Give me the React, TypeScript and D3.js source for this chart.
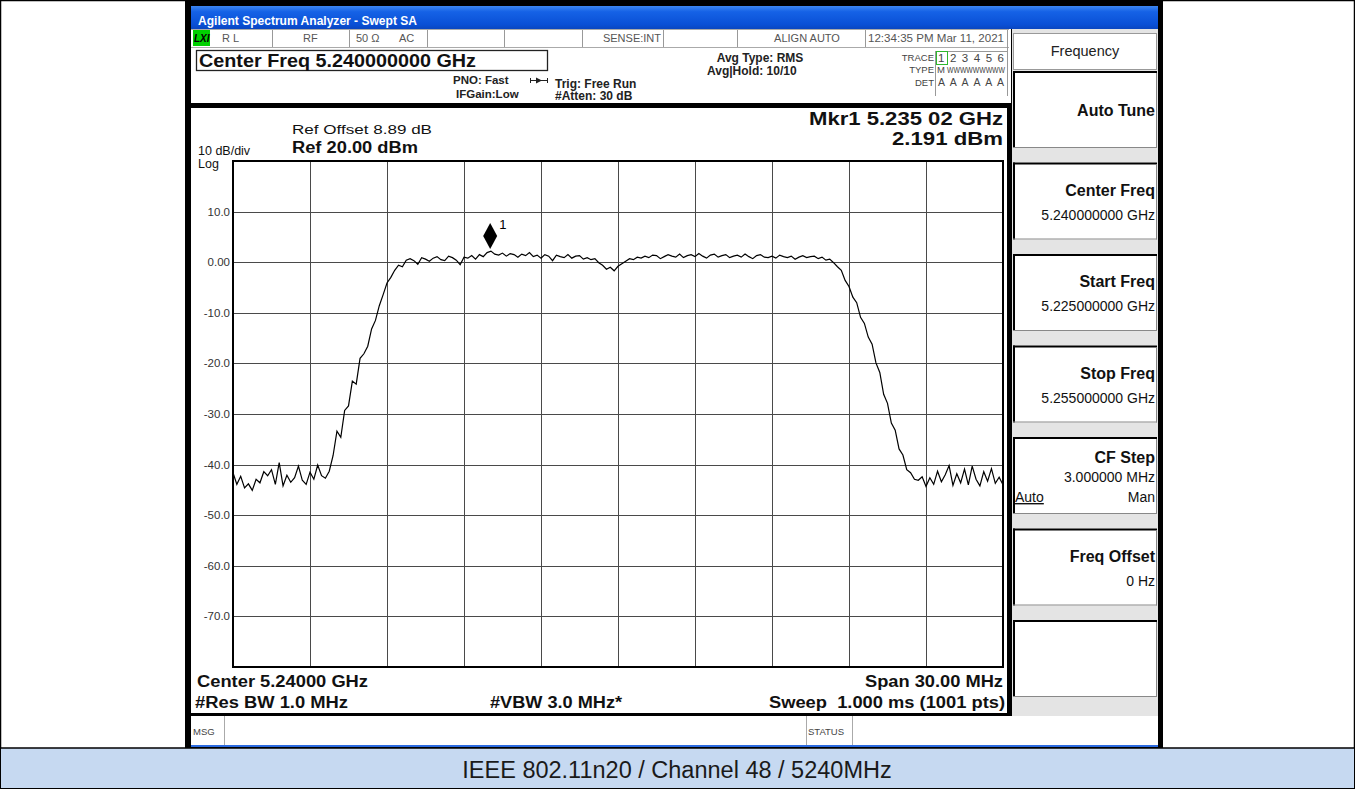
import React from 'react';
import * as d3 from 'd3';

const START_MHZ = 5225;
const STOP_MHZ = 5255;
const REF_DBM = 20;
const BOTTOM_DBM = -80;
const X_DIVS = 10;
const Y_TICKS = [10, 0, -10, -20, -30, -40, -50, -60, -70];
const Y_TICK_LABELS = ['10.0', '0.00', '-10.0', '-20.0', '-30.0', '-40.0', '-50.0', '-60.0', '-70.0'];

// trace values (dBm), evenly spaced across the span
const TRACE_DBM = [
  -41.6, -43.9, -42.3, -44.6, -43.8, -45.1, -42.9, -43.6, -41.4, -42.2,
  -41.0, -43.9, -39.6, -44.2, -42.1, -43.5, -42.6, -40.3, -43.1, -43.9,
  -41.5, -42.9, -40.1, -42.2, -42.7, -41.3,
  -38.2, -33.4, -34.6, -29.3, -28.4, -23.5, -24.1, -19.0, -18.1, -16.6,
  -13.2, -11.5, -8.6, -6.4, -4.1, -3.0, -1.6, -0.6, -0.9,
  0.4, 0.7, 0.3, -0.4, 0.9, 0.6, 0.2, 0.8, 1.1, 0.5,
  0.3, 1.2, 0.9, 0.4, -0.5, 1.0, 0.8, 1.3, 0.6, 1.5,
  1.1, 1.9, 2.19, 1.6, 1.4, 1.8, 1.2, 1.7, 1.5, 1.0,
  1.6, 1.3, 1.9, 1.1, 1.4, 0.8, 1.5, 1.2, 0.3, 1.4,
  1.1, 0.9, 1.5, 0.8, 1.2, 1.3, 0.6, 0.9, 0.5, 0.7,
  -0.1, -0.6, -1.4, -1.0, -1.7, -0.8, -0.3, 0.2, 0.7, 0.5,
  1.0, 0.8, 1.2, 0.9, 1.4, 1.3, 0.7, 1.1, 1.5, 1.2,
  1.0, 1.6, 0.9, 1.3, 1.5, 1.1, 1.7, 1.2, 0.8, 1.4,
  1.6, 1.0, 1.3, 1.5, 0.9, 1.2, 1.4, 1.0, 1.6, 1.1,
  0.7, 1.3, 1.5, 1.0, 0.9, 1.2, 0.8, 1.4, 1.1, 0.9,
  1.2, 0.6, 1.0, 1.3, 0.9, 1.1, 1.2, 0.7, 1.0, 0.4,
  0.6, -0.1,
  -0.9, -1.6, -3.6, -4.8, -6.9, -8.0, -10.9, -12.1, -14.8, -16.2,
  -19.9, -21.8, -26.1, -27.9, -31.8, -33.2, -36.9, -38.1, -41.0, -41.6,
  -42.9,
  -43.1, -42.4, -44.3, -42.6, -43.9, -41.3, -43.4, -42.0, -40.2, -44.1,
  -41.8, -43.6, -40.9, -44.0, -40.3, -42.9, -44.2, -41.4, -43.3, -40.8,
  -43.7, -42.5, -44.0,
];

const MARKER_MHZ = 5235.02;
const MARKER_DBM = 2.191;

const STATUS_DIVIDERS = [272, 349, 427, 504, 582, 663, 737, 865];

const SOFTKEYS = [
  { title: 'Auto Tune', lines: [] as string[] },
  { title: 'Center Freq', lines: ['5.240000000 GHz'] },
  { title: 'Start Freq', lines: ['5.225000000 GHz'] },
  { title: 'Stop Freq', lines: ['5.255000000 GHz'] },
  { title: 'CF Step', lines: ['3.000000 MHz'], autoMan: true },
  { title: 'Freq Offset', lines: ['0 Hz'] },
  { title: '', lines: [] as string[] },
];

const FONT = '"Liberation Sans", Arial, Helvetica, sans-serif';

export default function App() {
  const W = 1355;
  const H = 789;
  const plot = { l: 233, r: 1003, t: 161, b: 667 };
  const x = d3.scaleLinear().domain([START_MHZ, STOP_MHZ]).range([plot.l, plot.r]);
  const y = d3.scaleLinear().domain([BOTTOM_DBM, REF_DBM]).range([plot.b, plot.t]);
  const n = TRACE_DBM.length;
  const pts: [number, number][] = TRACE_DBM.map((v, i) => [
    START_MHZ + (i * (STOP_MHZ - START_MHZ)) / (n - 1),
    v,
  ]);
  const line = d3
    .line<[number, number]>()
    .x((d) => x(d[0]))
    .y((d) => y(d[1]));
  const xGrid = d3.range(1, X_DIVS).map((k) => START_MHZ + (k * (STOP_MHZ - START_MHZ)) / X_DIVS);
  const yGrid = d3.range(BOTTOM_DBM + 10, REF_DBM, 10);

  const mx = x(MARKER_MHZ);
  const my = y(MARKER_DBM) - 2;

  const keyTop = (k: number) => 71 + k * 91.5;

  return (
    <svg
      width={W}
      height={H}
      viewBox={`0 0 ${W} ${H}`}
      style={{ position: 'absolute', left: 0, top: 0, fontFamily: FONT }}
    >
      <defs>
        <linearGradient id="tb" x1="0" y1="0" x2="0" y2="1">
          <stop offset="0" stopColor="#3d86f0" />
          <stop offset="0.25" stopColor="#1562e6" />
          <stop offset="0.8" stopColor="#0a50d6" />
          <stop offset="1" stopColor="#0a46c0" />
        </linearGradient>
      </defs>
      {/* page background / table */}
      <rect x={0} y={0} width={W} height={H} fill="#ffffff" />
      <rect x={0.5} y={0.5} width={W - 1} height={H - 1} fill="none" stroke="#000" strokeWidth={1.5} />
      {/* caption row */}
      <rect x={1} y={748} width={W - 2} height={40} fill="#c6d9f1" />
      <line x1={0} x2={W} y1={748} y2={748} stroke="#000" strokeWidth={1.5} />
      <text x={677} y={778} textAnchor="middle" fontSize={23.5} fill="#1a1a1a">
        IEEE 802.11n20 / Channel 48 / 5240MHz
      </text>

      {/* screenshot frame */}
      <rect x={185} y={0} width={978} height={748} fill="#000" />
      {/* title bar */}
      <rect x={191} y={6} width={967} height={23} fill="url(#tb)" />
      <text x={198} y={25} fontSize={12} fontWeight="bold" fill="#ffffff" textLength={219} lengthAdjust="spacingAndGlyphs">
        Agilent Spectrum Analyzer - Swept SA
      </text>

      {/* status row + header area */}
      <rect x={191} y={29} width={820} height={74} fill="#ffffff" />
      <line x1={191} x2={1009} y1={29.5} y2={29.5} stroke="#aaa" />
      <line x1={191} x2={1009} y1={47.5} y2={47.5} stroke="#aaa" />
      {STATUS_DIVIDERS.map((d) => (
        <line key={d} x1={d + 0.5} x2={d + 0.5} y1={30} y2={47} stroke="#999" />
      ))}
      <line x1={1007.5} x2={1007.5} y1={30} y2={96} stroke="#999" />
      <rect x={193} y={30} width={17} height={16} fill="#00d000" />
      <text x={194} y={42} fontSize={10} fontWeight="bold" fontStyle="italic" fill="#000">
        LXI
      </text>
      <g fontSize={11} fill="#555">
        <text x={222} y={42}>R L</text>
        <text x={303} y={42}>RF</text>
        <text x={356} y={42}>50 Ω</text>
        <text x={399} y={42}>AC</text>
        <text x={661} y={42} textAnchor="end">SENSE:INT</text>
        <text x={807} y={42} textAnchor="middle">ALIGN AUTO</text>
        <text x={868} y={42} textLength={136} lengthAdjust="spacingAndGlyphs">12:34:35 PM Mar 11, 2021</text>
      </g>

      <rect x={196.5} y={50.5} width={351} height={20} fill="#fff" stroke="#222" strokeWidth={1.3} />
      <text x={199} y={67} fontSize={17.5} fontWeight="bold" fill="#111" textLength={277} lengthAdjust="spacingAndGlyphs">
        Center Freq 5.240000000 GHz
      </text>
      <g fontSize={11.5} fontWeight="bold" fill="#222">
        <text x={453} y={84}>PNO: Fast</text>
        <text x={456} y={98}>IFGain:Low</text>
        <text x={555} y={88} fontSize={12}>Trig: Free Run</text>
        <text x={555} y={100} fontSize={12}>#Atten: 30 dB</text>
        <text x={760} y={62} fontSize={12} textAnchor="middle">Avg Type: RMS</text>
        <text x={707} y={75} fontSize={12}>Avg|Hold: 10/10</text>
      </g>
      {/* PNO arrow */}
      <g stroke="#222" strokeWidth={1}>
        <line x1={530} x2={548} y1={80.5} y2={80.5} />
        <line x1={530.5} x2={530.5} y1={78} y2={83} />
        <line x1={547.5} x2={547.5} y1={78} y2={83} />
      </g>
      <path d="M536,77.5 L542,80.5 L536,83.5 Z" fill="#222" />
      {/* trace info box */}
      <g fontSize={9.5} fill="#444">
        <text x={934} y={61} textAnchor="end">TRACE</text>
        <text x={934} y={73} textAnchor="end">TYPE</text>
        <text x={934} y={86} textAnchor="end">DET</text>
        <text x={938} y={62} fontSize={11.5} textLength={66} lengthAdjust="spacing">1 2 3 4 5 6</text>
        <text x={937} y={73}>M</text>
        <text x={947} y={73} textLength={58} lengthAdjust="spacingAndGlyphs">WWWWWWWWW</text>
        <text x={938} y={86} fontSize={10.5} textLength={66} lengthAdjust="spacing">A A A A A A</text>
      </g>
      <line x1={935.5} x2={935.5} y1={51} y2={96} stroke="#999" />
      <line x1={935} x2={1007} y1={51.5} y2={51.5} stroke="#999" />
      <rect x={936.5} y={51.5} width={11} height={13} fill="none" stroke="#2db82d" strokeWidth={1} />

      {/* main panel */}
      <rect x={191} y={103} width={821} height={5} fill="#000" />
      <rect x={191} y={108} width={817} height={606} fill="#fff" />
      <rect x={1007} y={103} width={5} height={613} fill="#000" />
      <rect x={191} y={713} width={821} height={3} fill="#000" />

      <text x={292} y={134} fontSize={12.5} fill="#111" textLength={140} lengthAdjust="spacingAndGlyphs">Ref Offset 8.89 dB</text>
      <text x={292} y={153} fontSize={16} fontWeight="bold" fill="#111" textLength={126} lengthAdjust="spacingAndGlyphs">Ref 20.00 dBm</text>
      <text x={198} y={155} fontSize={12.5} fill="#111">10 dB/div</text>
      <text x={198} y={168} fontSize={12.5} fill="#111">Log</text>
      <text x={1003} y={125} fontSize={18.5} fontWeight="bold" textAnchor="end" fill="#111" textLength={194} lengthAdjust="spacingAndGlyphs">
        Mkr1 5.235 02 GHz
      </text>
      <text x={1003} y={145} fontSize={18.5} fontWeight="bold" textAnchor="end" fill="#111" textLength={111} lengthAdjust="spacingAndGlyphs">
        2.191 dBm
      </text>

      {/* grid */}
      <g stroke="#4a4a4a" strokeWidth={1}>
        {xGrid.map((f) => (
          <line key={f} x1={Math.round(x(f)) + 0.5} x2={Math.round(x(f)) + 0.5} y1={plot.t} y2={plot.b} />
        ))}
        {yGrid.map((v) => (
          <line key={v} x1={plot.l} x2={plot.r} y1={Math.round(y(v)) + 0.5} y2={Math.round(y(v)) + 0.5} />
        ))}
      </g>
      <rect x={plot.l} y={plot.t} width={plot.r - plot.l} height={plot.b - plot.t} fill="none" stroke="#000" strokeWidth={2} />
      <g fontSize={11.5} fill="#333" textAnchor="end">
        {Y_TICKS.map((v, i) => (
          <text key={v} x={230} y={y(v) + 4}>
            {Y_TICK_LABELS[i]}
          </text>
        ))}
      </g>
      {/* trace */}
      <path d={line(pts) || ''} fill="none" stroke="#000" strokeWidth={1.2} strokeLinejoin="miter" />
      {/* marker */}
      <path d={`M${mx},${my - 26} L${mx + 7},${my - 13} L${mx},${my} L${mx - 7},${my - 13} Z`} fill="#000" />
      <text x={mx + 9} y={my - 20} fontSize={13} fill="#000">1</text>

      {/* bottom annotations */}
      <g fontSize={16} fontWeight="bold" fill="#111">
        <text x={197} y={687} textLength={171} lengthAdjust="spacingAndGlyphs">Center 5.24000 GHz</text>
        <text x={195} y={708} textLength={153} lengthAdjust="spacingAndGlyphs">#Res BW 1.0 MHz</text>
        <text x={490} y={708} textLength={132} lengthAdjust="spacingAndGlyphs">#VBW 3.0 MHz*</text>
        <text x={1003} y={687} textAnchor="end" textLength={138} lengthAdjust="spacingAndGlyphs">Span 30.00 MHz</text>
        <text x={1005} y={708} textAnchor="end" textLength={236} lengthAdjust="spacingAndGlyphs">{'Sweep\u00a0 1.000 ms (1001 pts)'}</text>
      </g>

      {/* MSG row */}
      <rect x={191} y={716} width={967} height={29} fill="#fff" />
      <line x1={224.5} x2={224.5} y1={716} y2={745} stroke="#aaa" />
      <line x1={806.5} x2={806.5} y1={716} y2={745} stroke="#aaa" />
      <line x1={852.5} x2={852.5} y1={716} y2={745} stroke="#aaa" />
      <text x={193} y={735} fontSize={9.5} fill="#444">MSG</text>
      <text x={808} y={735} fontSize={9.5} fill="#444">STATUS</text>
      <rect x={191} y={745} width={967} height={2} fill="#2c6be0" />

      {/* right softkey panel */}
      <rect x={1012} y={29} width={146} height={687} fill="#e4e4e4" />
      <rect x={1013.5} y={33.5} width={143} height={36} fill="#fff" stroke="#999" />
      <text x={1085} y={56} fontSize={14.5} textAnchor="middle" fill="#222">Frequency</text>
      {SOFTKEYS.map((k, i) => {
        const t = keyTop(i);
        const h = 77;
        return (
          <g key={i}>
            <rect x={1013} y={t} width={144} height={h} fill="#fff" />
            <line x1={1013} x2={1157} y1={t + 1} y2={t + 1} stroke="#000" strokeWidth={2} />
            <line x1={1014} x2={1014} y1={t} y2={t + h} stroke="#000" strokeWidth={2} />
            <line x1={1156.5} x2={1156.5} y1={t + 2} y2={t + h} stroke="#888" strokeWidth={1} />
            <line x1={1013} x2={1157} y1={t + h - 0.5} y2={t + h - 0.5} stroke="#888" strokeWidth={1} />
            {k.title && k.lines.length === 0 && (
              <text x={1155} y={t + 45} fontSize={16} fontWeight="bold" textAnchor="end" fill="#111">
                {k.title}
              </text>
            )}
            {k.title && k.lines.length > 0 && !k.autoMan && (
              <>
                <text x={1155} y={t + 33} fontSize={16} fontWeight="bold" textAnchor="end" fill="#111">
                  {k.title}
                </text>
                <text x={1155} y={t + 57} fontSize={14} textAnchor="end" fill="#111">
                  {k.lines[0]}
                </text>
              </>
            )}
            {k.autoMan && (
              <>
                <text x={1155} y={t + 26} fontSize={16} fontWeight="bold" textAnchor="end" fill="#111">
                  {k.title}
                </text>
                <text x={1155} y={t + 45} fontSize={14} textAnchor="end" fill="#111">
                  {k.lines[0]}
                </text>
                <text x={1015} y={t + 65} fontSize={14} fill="#111" textDecoration="underline">
                  Auto
                </text>
                <text x={1155} y={t + 65} fontSize={14} textAnchor="end" fill="#111">
                  Man
                </text>
              </>
            )}
          </g>
        );
      })}
      <rect x={1158} y={0} width={5} height={748} fill="#000" />
    </svg>
  );
}
